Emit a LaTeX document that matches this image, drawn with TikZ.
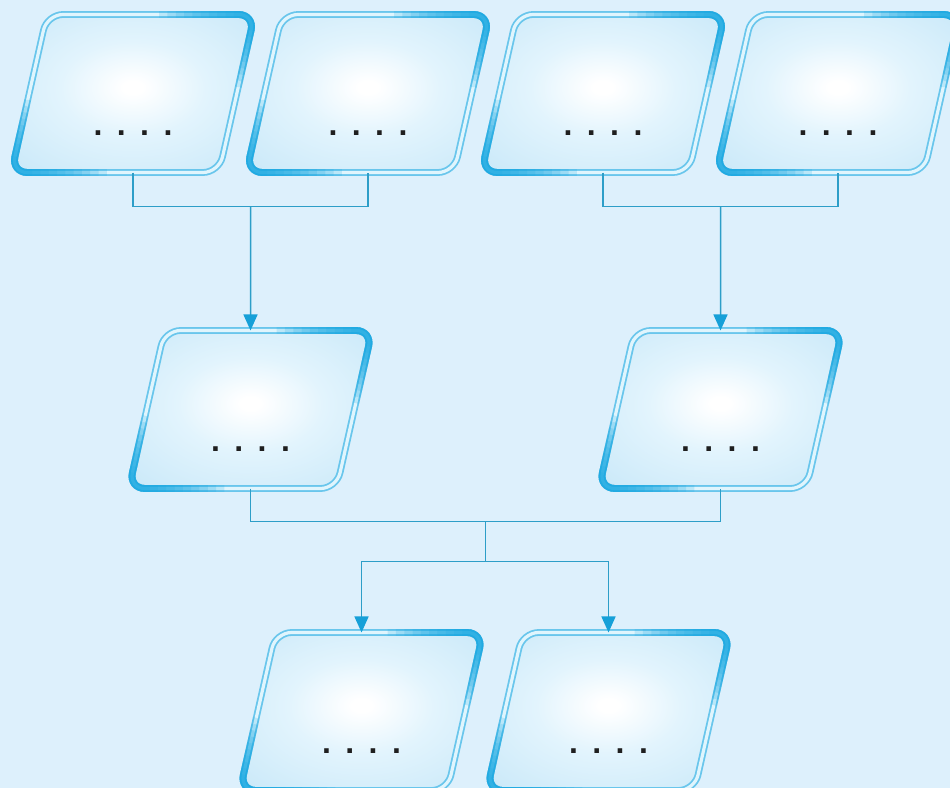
\documentclass[tikz,border=0pt]{standalone}
\usepackage{fontspec}
\setmainfont{Liberation Sans}
\usetikzlibrary{shapes.geometric,positioning,calc,arrows.meta}

\definecolor{bgblue}{RGB}{221,240,252}
\definecolor{boxin}{RGB}{226,244,253}
\definecolor{boxout}{RGB}{194,229,247}
\definecolor{rimblue}{RGB}{105,198,236}
\definecolor{rimlight}{RGB}{224,245,253}
\definecolor{glowblue}{RGB}{24,168,226}
\definecolor{linkblue}{RGB}{45,158,200}
\definecolor{tipblue}{RGB}{22,160,216}

\pgfdeclareradialshading{boxglow}{\pgfpoint{0bp}{2bp}}{color(0bp)=(white); color(2bp)=(white); color(15bp)=(boxin); color(42bp)=(boxout); color(72bp)=(boxout)}

\tikzset{
  box/.style={trapezium, trapezium left angle=79, trapezium right angle=101,
    trapezium stretches=true, minimum width=122pt, minimum height=79pt,
    rounded corners=8pt, shade, shading=boxglow, draw=rimblue, line width=0.9pt,
    double=rimlight, double distance=1.6pt, outer sep=0pt, inner sep=0pt,
    text height=42pt, text depth=0pt, text=black!88,
    font=\bfseries\fontsize{16pt}{16pt}\selectfont\addfontfeatures{LetterSpace=45}},
  rim glow/.style={draw=glowblue, draw opacity=.18, line width=3.4pt, rounded corners=8pt},
  link/.style={draw=linkblue, line width=0.75pt},
  arr/.style={link, -{Triangle[length=8pt,width=7pt,color=tipblue]}}
}

\begin{document}
\begin{tikzpicture}[node distance=117.5pt,on grid]
  \clip (0,0) rectangle (475pt,394pt);
  \fill[bgblue] (0,0) rectangle (475pt,394pt);

  % first row
  \node[box] (a1) at (66.5pt,347.25pt) {....};
  \node[box] (a2) [right=of a1] {....};
  \node[box] (a3) [right=of a2] {....};
  \node[box] (a4) [right=of a3] {....};

  \coordinate (j1) at ($(a1.south)!.5!(a2.south)+(0,-17pt)$);
  \coordinate (j2) at ($(a3.south)!.5!(a4.south)+(0,-17pt)$);

  % second row
  \node[box] (b1) at ($(j1)+(0,-101.5pt)$) {....};
  \node[box] (b2) at ($(j2)+(0,-101.5pt)$) {....};

  \coordinate (j3) at ($(b1.south)!.5!(b2.south)+(0,-16.5pt)$);
  \coordinate (j4) at ($(j3)+(0,-20pt)$);

  % last row
  \node[box] (c1) at ($(j4)+(-62pt,-75pt)$) {....};
  \node[box] (c2) [right=123.5pt of c1] {....};

  % bright rims on two corners
  \foreach \n in {a1,a2,a3,a4,b1,b2,c1,c2}{
    \foreach \f in {.1,.14,...,.46}{
      \draw[rim glow] ($(\n.bottom left corner)!\f!(\n.top left corner)$) -- (\n.bottom left corner) -- ($(\n.bottom left corner)!\f!(\n.bottom right corner)$);
      \draw[rim glow] ($(\n.top right corner)!\f!(\n.top left corner)$) -- (\n.top right corner) -- ($(\n.top right corner)!\f!(\n.bottom right corner)$);
    }
  }

  % connectors
  \draw[link] (a1.south) |- (j1) -| (a2.south);
  \draw[link] (a3.south) |- (j2) -| (a4.south);
  \draw[arr] (j1) -- (b1.north);
  \draw[arr] (j2) -- (b2.north);
  \draw[link] (b1.south) |- (j3) -| (b2.south);
  \draw[link] (j3) -- (j4);
  \draw[arr] (j4) -| (c1.north);
  \draw[arr] (j4) -| (c2.north);
\end{tikzpicture}
\end{document}
